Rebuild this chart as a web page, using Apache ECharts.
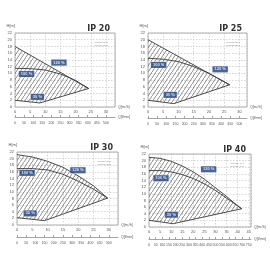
<!DOCTYPE html>
<html>
<head>
<meta charset="utf-8">
<script src="https://cdn.jsdelivr.net/npm/echarts@6/dist/echarts.min.js"></script>
<style>
  html, body {margin:0;padding:0;background:#fff;}
  #chart {width:270px;height:270px;}
</style>
</head>
<body>
<div id="chart"></div>
<script>
// pompe IP - curve caratteristiche
var titles = ['IP 20', 'IP 25', 'IP 30', 'IP 40'];
var xMax = [33, 32.5, 33, 46];
var yTicks = [0, 22, 2];

// IP 20
var ip20Max = [[0, 18], [24.3, 5.5]];
var ip20Nom = [[0, 11.5], [5, 11.4], [10, 11], [15, 9.8], [20, 7.9], [24.3, 5.5]];
var ip20Min = [[0, 2], [8.2, 1.2], [24.3, 5.5]];
var ip20Lab = [[14.5, 13.2, '120 %'], [3.8, 9.8, '100 %'], [7.4, 3, '30 %']];

// IP 25
var ip25Max = [[0, 20], [26.8, 6.6]];
var ip25Nom = [[0, 14.5], [5, 14.2], [10, 13.5], [15, 12], [20, 10], [24, 8], [26.8, 6.6]];
var ip25Min = [[0, 2], [8.5, 1], [26.8, 6.6]];
var ip25Lab = [[23.7, 11.2, '120 %'], [3.5, 12.5, '100 %'], [7.3, 3.6, '30 %']];

// IP 30
var ip30Max = [[0, 21.2], [5, 20.5], [10, 19.2], [15, 17.4], [20, 14.8], [25, 11.8], [29.6, 8.1]];
var ip30Nom = [[0, 17], [5, 17], [10, 16.6], [15, 15.3], [20, 13.2], [25, 10.8], [29.6, 8.1]];
var ip30Min = [[0, 2.2], [9, 1.3], [29.6, 8.1]];
var ip30Lab = [[19.9, 16.5, '120 %'], [3.3, 15.7, '100 %'], [4.3, 3.5, '30 %']];

// IP 40
var ip40Max = [[0, 21], [5, 20.7], [10, 19.8], [15, 18.4], [20, 16.6], [25, 14.4], [30, 11.8], [35, 9.2], [38, 7.5], [41.8, 5.5]];
var ip40Nom = [[0, 17], [5, 17], [10, 16.6], [15, 15.8], [20, 14.6], [25, 13], [30, 11], [35, 8.7], [41.8, 5.5]];
var ip40Min = [[0, 2], [10.9, 1], [41.8, 5.5]];
var ip40Lab = [[26.9, 17.4, '120 %'], [5.4, 14.7, '100 %'], [10.1, 3.7, '30 %']];

var legendLines = ['Pompa 20.1\nPompa 20.3', 'Pompa 25.1\nPompa 25.3', 'Pompa 30.1\nPompa 30.3', 'Pompa 40.1\nPompa 40.3'];

var curves = [
    [ip20Max, ip20Nom, ip20Min, ip20Lab],
    [ip25Max, ip25Nom, ip25Min, ip25Lab],
    [ip30Max, ip30Nom, ip30Min, ip30Lab],
    [ip40Max, ip40Nom, ip40Min, ip40Lab]
];

var grids = [
    {left: 15, top: 33, width: 100, height: 74},
    {left: 148, top: 33, width: 99, height: 74},
    {left: 17, top: 152, width: 101, height: 73},
    {left: 149, top: 154, width: 102, height: 73}
];
var lminOffset = [10, 11, 12, 12];

// tratteggio
var hatch = document.createElement('canvas');
hatch.width = 4;
hatch.height = 6;
var hc = hatch.getContext('2d');
hc.strokeStyle = '#444';
hc.lineWidth = 0.6;
hc.beginPath();
hc.moveTo(-1, 7.5); hc.lineTo(5, -1.5);
hc.stroke();

var lineCol = '#3a3a3a';
var txtCol = '#555';
var option = {
    backgroundColor: '#fff',
    animation: false,
    title: [],
    grid: [],
    xAxis: [],
    yAxis: [],
    series: []
};

grids.forEach(function (g, i) {
    option.grid.push({
        left: g.left, top: g.top, width: g.width, height: g.height,
        show: true, borderColor: '#999', borderWidth: 0.8, backgroundColor: '#fff'
    });
    option.title.push({
        text: titles[i],
        right: 270 - g.left - g.width,
        top: g.top - 13,
        textStyle: {fontSize: 8, fontWeight: 'bold', color: '#333', fontFamily: 'DejaVu Sans'}
    });
    option.title.push({
        text: legendLines[i],
        right: 270 - g.left - g.width + 2,
        top: g.top + 3,
        textStyle: {fontSize: 2.5, fontWeight: 'normal', color: '#888', lineHeight: 3}
    });
    // asse Q m3/h
    option.xAxis.push({
        type: 'value', gridIndex: i, min: 0, max: xMax[i], interval: 5,
        name: 'Q[m³/h]', nameLocation: 'end', nameGap: 3,
        nameTextStyle: {fontSize: 3.5, color: txtCol, padding: [7, 0, 0, 0]},
        axisLine: {show: false}, axisTick: {show: false},
        axisLabel: {fontSize: 4, color: txtCol, margin: 3, showMaxLabel: false},
        splitLine: {show: true, lineStyle: {color: '#bbb', type: [1.5, 1.5], width: 0.6}}
    });
    // asse Q l/min
    option.xAxis.push({
        type: 'value', gridIndex: i, position: 'bottom', offset: lminOffset[i],
        min: 0, max: xMax[i] * 1000 / 60, interval: 50,
        name: 'Q[l/min]', nameLocation: 'end', nameGap: 3,
        nameTextStyle: {fontSize: 3.5, color: txtCol},
        axisLine: {show: true, lineStyle: {color: '#666', width: 0.6}},
        axisTick: {show: true, inside: true, length: 2, lineStyle: {color: '#666', width: 0.6}},
        axisLabel: {fontSize: 3.5, color: txtCol, margin: 4, showMaxLabel: false},
        splitLine: {show: false}
    });
    option.yAxis.push({
        type: 'value', gridIndex: i, min: yTicks[0], max: yTicks[1], interval: yTicks[2],
        name: 'H[m]', nameLocation: 'end', nameGap: 5,
        nameTextStyle: {fontSize: 4, color: txtCol, align: 'right', padding: [0, 0, 0, 0]},
        axisLine: {show: false}, axisTick: {show: false},
        axisLabel: {fontSize: 4, color: txtCol, margin: 3},
        splitLine: {show: true, lineStyle: {color: '#bbb', type: [1.5, 1.5], width: 0.6}}
    });

    var c = curves[i];
    var top = c[0], bot = c[2];
    option.series.push({
        type: 'custom', xAxisIndex: i * 2, yAxisIndex: i, z: 1,
        data: [[0, 0]],
        renderItem: function (params, api) {
            var pts = [];
            top.forEach(function (p) { pts.push(api.coord(p)); });
            for (var k = bot.length - 1; k >= 0; k--) pts.push(api.coord(bot[k]));
            return {
                type: 'polygon',
                shape: {points: pts},
                style: {fill: {image: hatch, repeat: 'repeat'}, stroke: null}
            };
        }
    });
    [c[0], c[1], c[2]].forEach(function (d) {
        option.series.push({
            type: 'line', xAxisIndex: i * 2, yAxisIndex: i, z: 3,
            data: d, showSymbol: false, smooth: false,
            lineStyle: {color: lineCol, width: 0.9}
        });
    });
    option.series.push({
        type: 'scatter', xAxisIndex: i * 2, yAxisIndex: i, z: 5,
        data: c[3], symbolSize: 0,
        label: {
            show: true, position: 'inside',
            formatter: function (p) { return p.value[2]; },
            fontSize: 4, fontWeight: 'bold', color: '#fff',
            backgroundColor: '#21407c', borderColor: '#dfe6f2', borderWidth: 0.5,
            padding: [1, 2]
        }
    });
});

var chart = echarts.init(document.getElementById('chart'), null, {renderer: 'canvas'});
chart.setOption(option);
</script>
</body>
</html>
